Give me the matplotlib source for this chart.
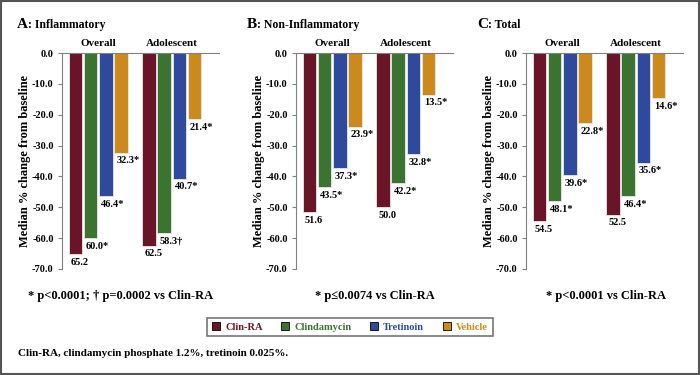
import numpy as np
import matplotlib
matplotlib.use("Agg")
import matplotlib.pyplot as plt
from matplotlib.patches import Patch, Rectangle

plt.rcParams['font.family'] = ['Liberation Serif', 'DejaVu Serif']
plt.rcParams['font.weight'] = 'bold'

treatments = ["Clin-RA", "Clindamycin", "Tretinoin", "Vehicle"]
colors = ["#6a1428", "#3a7430", "#2f4a9c", "#cc8a1e"]
groups = ["Overall", "Adolescent"]

panel_letters = ["A", "B", "C"]
panel_names = [": Inflammatory", ": Non-Inflammatory", ": Total"]

# median % change (reduction), per panel: [overall, adolescent] x treatments
inflam = [[65.2, 60.0, 46.4, 32.3], [62.5, 58.3, 40.7, 21.4]]
inflam_marks = [["", "*", "*", "*"], ["", "\u2020", "*", "*"]]
noninflam = [[51.6, 43.5, 37.3, 23.9], [50.0, 42.2, 32.8, 13.5]]
noninflam_marks = [["", "*", "*", "*"], ["", "*", "*", "*"]]
total = [[54.5, 48.1, 39.6, 22.8], [52.5, 46.4, 35.6, 14.6]]
total_marks = [["", "*", "*", "*"], ["", "*", "*", "*"]]

footnotes = ["* p<0.0001; \u2020 p=0.0002 vs Clin-RA",
             "* p\u22640.0074 vs Clin-RA",
             "* p<0.0001 vs Clin-RA"]
note = "Clin-RA, clindamycin phosphate 1.2%, tretinoin 0.025%."

panels = [(inflam, inflam_marks), (noninflam, noninflam_marks), (total, total_marks)]

fig = plt.figure(figsize=(7, 3.75), dpi=100)

lefts = [62, 296, 526]
title_x = [17, 247, 477]
foot_x = [121, 375, 606]
group_start = [0, 4.87]
w = 0.9

for i, (vals, marks) in enumerate(panels):
    ax = fig.add_axes([lefts[i] / 700, 1 - 269 / 375, 157 / 700, 216 / 375])
    for g in range(2):
        for t in range(4):
            x = group_start[g] + t
            v = -vals[g][t]
            ax.bar(x, v, width=w, color=colors[t], edgecolor="#e8e8e8", linewidth=0.6)
            ax.annotate(f"{vals[g][t]:.1f}{marks[g][t]}", xy=(x - w / 2, v),
                        xytext=(1.5, -2.5), textcoords="offset points",
                        ha="left", va="top", fontsize=7.5, fontweight="bold")
        ax.text(group_start[g] + 1.5, 1.025, groups[g], transform=ax.get_xaxis_transform(),
                ha="center", va="bottom", fontsize=8, fontweight="bold")
    ax.set_xlim(-0.9, 9.5)
    ax.set_ylim(-70, 0)
    ax.set_yticks(np.arange(0, -71, -10))
    ax.set_yticklabels([f"{v:.1f}" for v in np.arange(0, -71, -10)], fontsize=7.5, fontweight="bold")
    ax.set_xticks([])
    ax.spines["bottom"].set_visible(False)
    ax.spines["right"].set_visible(False)
    ax.spines["left"].set_color("#808080")
    ax.spines["top"].set_color("#808080")
    ax.tick_params(axis="y", color="#808080", length=3, pad=3)
    ax.set_ylabel("Median % change from baseline", fontsize=9, fontweight="bold", labelpad=1)

    t1 = fig.text(title_x[i] / 700, 1 - 25 / 375, panel_letters[i], fontsize=11,
                  fontweight="bold", va="center", ha="left")
    ax.annotate(panel_names[i], xy=(1, 0.5), xycoords=t1, va="center", ha="left",
                fontsize=8.5, fontweight="bold", annotation_clip=False)

    fig.text(foot_x[i] / 700, 1 - 296 / 375, footnotes[i], ha="center", va="center",
             fontsize=9, fontweight="bold")

handles = [Patch(facecolor=c, edgecolor="black", linewidth=0.6) for c in colors]
leg = fig.legend(handles, treatments, loc="center", bbox_to_anchor=(350 / 700, 1 - 327 / 375),
                 ncol=4, frameon=True, fancybox=False, edgecolor="#555555",
                 prop={"size": 7.5, "weight": "bold"}, handlelength=0.75, handleheight=0.75,
                 handletextpad=0.5, columnspacing=1.8, borderpad=0.45)
leg.get_frame().set_linewidth(1.2)
for txt, c in zip(leg.get_texts(), colors):
    txt.set_color(c)

fig.text(18 / 700, 1 - 353 / 375, note, ha="left", va="center", fontsize=8, fontweight="bold")

fig.patches.append(Rectangle((0.002, 0.003), 0.996, 0.994, transform=fig.transFigure,
                             fill=False, edgecolor="#555555", linewidth=1.5, figure=fig))

fig.savefig("out.png", dpi=100)
